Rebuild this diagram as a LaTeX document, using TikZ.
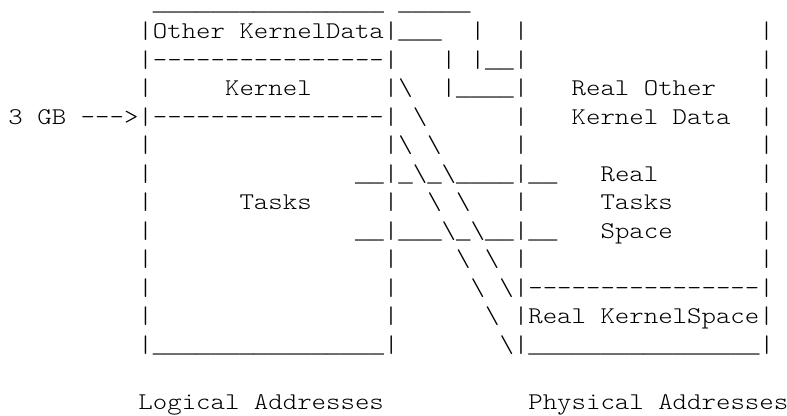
\documentclass[tikz,border=0pt]{standalone}
\usepackage{fontspec}
% typewriter face, stretched so that one character cell is 14.44pt wide
\newfontfamily\asciifont[Ligatures=TeXOff,FakeStretch=1.146]{lmmonolt10-regular.otf}
% underscores from a face whose '_' fills the whole cell, so runs join up
\newfontfamily\rulefont{Liberation Mono}
\newcommand\asciitext{\asciifont\fontsize{24}{28.5}\selectfont}
% n blank character cells
\newcommand\sk[1]{\hskip#1\fontcharwd\font`x\relax}
\newcommand\bs{\textbackslash}
\newcommand\us{{\rulefont\fontsize{24.07}{28.5}\selectfont\_}}
\ExplSyntaxOn
\cs_new:Npn \rpt #1#2 { \prg_replicate:nn {#1} {#2} }
\ExplSyntaxOff
% grid: column c, row r (baseline)
\newcommand\cellx[1]{8.5+#1*14.44}
\newcommand\rowy[1]{10+#1*28.5}
\tikzset{asciirow/.style={anchor=base west, inner sep=0pt, outer sep=0pt, font=\asciitext, text=black}}
\begin{document}
\begin{tikzpicture}[x=1pt,y=-1pt]
\useasboundingbox (0,0) rectangle (787,415);
\fill[white] (0,0) rectangle (787,415);

\node[asciirow, text height=1pt] (row0) at ({\cellx{10}},{\rowy{0}}) {\rpt{16}{\us}\sk{1}\rpt{5}{\us}};
\node[asciirow] (row1)  at ({\cellx{9}},{\rowy{1}})   {|Other\sk{1}KernelData|\rpt{3}{\us}\sk{2}|\sk{2}|\sk{16}|};
\node[asciirow] (row2)  at ({\cellx{9}},{\rowy{2}})   {|\rpt{16}{-}|\sk{3}|\sk{1}|\us\us|\sk{16}|};
\node[asciirow] (row3)  at ({\cellx{9}},{\rowy{3}})   {|\sk{5}Kernel\sk{5}|\bs\sk{2}|\rpt{4}{\us}|\sk{3}Real\sk{1}Other\sk{3}|};
\node[asciirow] (row4)  at ({\cellx{0}},{\rowy{4}})   {3\sk{1}GB\sk{1}--->|\rpt{16}{-}|\sk{1}\bs\sk{6}|\sk{3}Kernel\sk{1}Data\sk{2}|};
\node[asciirow] (row5)  at ({\cellx{9}},{\rowy{5}})   {|\sk{16}|\bs\sk{1}\bs\sk{5}|\sk{16}|};
\node[asciirow] (row6)  at ({\cellx{9}},{\rowy{6}})   {|\sk{14}\us\us|\us\bs\us\bs\rpt{4}{\us}|\us\us\sk{3}Real\sk{7}|};
\node[asciirow] (row7)  at ({\cellx{9}},{\rowy{7}})   {|\sk{6}Tasks\sk{5}|\sk{2}\bs\sk{1}\bs\sk{3}|\sk{5}Tasks\sk{6}|};
\node[asciirow] (row8)  at ({\cellx{9}},{\rowy{8}})   {|\sk{14}\us\us|\rpt{3}{\us}\bs\us\bs\us\us|\us\us\sk{3}Space\sk{6}|};
\node[asciirow] (row9)  at ({\cellx{9}},{\rowy{9}})   {|\sk{16}|\sk{4}\bs\sk{1}\bs\sk{1}|\sk{16}|};
\node[asciirow] (row10) at ({\cellx{9}},{\rowy{10}})  {|\sk{16}|\sk{5}\bs\sk{1}\bs|\rpt{16}{-}|};
\node[asciirow] (row11) at ({\cellx{9}},{\rowy{11}})  {|\sk{16}|\sk{6}\bs\sk{1}|Real\sk{1}KernelSpace|};
\node[asciirow] (row12) at ({\cellx{9}},{\rowy{12}})  {|\rpt{16}{\us}|\sk{7}\bs|\rpt{16}{\us}|};

\node[asciirow] (logical)  at ({\cellx{9}},{\rowy{14}})  {Logical\sk{1}Addresses};
\node[asciirow] (physical) at ({\cellx{36}},{\rowy{14}}) {Physical\sk{1}Addresses};
\end{tikzpicture}
\end{document}
